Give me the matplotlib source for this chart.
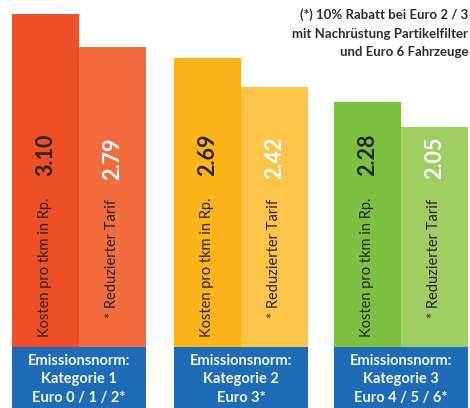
import matplotlib
matplotlib.use("Agg")
import matplotlib.pyplot as plt

# --- data -------------------------------------------------------------
kosten = [3.10, 2.69, 2.28]
reduziert = [2.79, 2.42, 2.05]
kategorien = ["Kategorie 1", "Kategorie 2", "Kategorie 3"]
euro_normen = ["Euro 0 / 1 / 2*", "Euro 3*", "Euro 4 / 5 / 6*"]
label_kosten = "Kosten pro tkm in Rp."
label_reduziert = "* Reduzierter Tarif"
fussnote = ["(*) 10% Rabatt bei Euro 2 / 3",
            "mit Nachrüstung Partikelfilter",
            "und Euro 6 Fahrzeuge"]

# --- colours ----------------------------------------------------------
col_kosten = ["#EF4F27", "#FBB51A", "#7DC143"]
col_reduziert = ["#F26C3D", "#FDC44A", "#A0CE63"]
col_box = "#1E6BB8"
txt_dark = "#2B2420"

plt.rcParams['font.family'] = ['Lato', 'DejaVu Sans']

W, H = 470, 408
BASE = 347.0          # pixel row of the zero line
SCALE = 107.4         # pixels per Rp.


def py(p):
    # pixel row from top -> data y
    return (BASE - p) / SCALE


fig = plt.figure(figsize=(W / 100, H / 100), dpi=100)
ax = fig.add_axes([0, 0, 1, 1])
ax.set_xlim(0, W)
ax.set_ylim(py(H), py(0))
ax.axis('off')

centers = [79, 241, 401]
bw = 67

for i, c in enumerate(centers):
    xk = c - bw / 2
    xr = c + bw / 2
    ax.bar(xk, kosten[i], width=bw, color=col_kosten[i], linewidth=0)
    ax.bar(xr, reduziert[i], width=bw, color=col_reduziert[i], linewidth=0)

    # emission box below the bars
    ax.bar(c, py(BASE) - py(H), bottom=py(H), width=2 * bw,
           color=col_box, linewidth=0)
    for j, line in enumerate(["Emissionsnorm:", kategorien[i], euro_normen[i]]):
        ax.text(c, py(361 + 18.5 * j), line, ha='center', va='center',
                color="#F2F6FC", fontsize=10.5, fontweight='bold')

    # rotated labels inside the bars
    ax.text(xk, py(337), label_kosten, rotation=90, rotation_mode='anchor',
            ha='left', va='center', color=txt_dark, fontsize=10.5)
    ax.text(xk, py(134), f"{kosten[i]:.2f}", rotation=90,
            rotation_mode='anchor', ha='right', va='center',
            color=txt_dark, fontsize=15.5, fontweight='bold')
    ax.text(xr, py(318), label_reduziert, rotation=90, rotation_mode='anchor',
            ha='left', va='center', color=txt_dark, fontsize=10.5)
    ax.text(xr, py(137), f"{reduziert[i]:.2f}", rotation=90,
            rotation_mode='anchor', ha='right', va='center',
            color="white", fontsize=15.5, fontweight='bold')

for j, line in enumerate(fussnote):
    ax.text(468, py(15 + 18.5 * j), line, ha='right', va='center',
            color="#2E2E2E", fontsize=9.5, fontweight='bold')

fig.savefig("out.png", dpi=100)
